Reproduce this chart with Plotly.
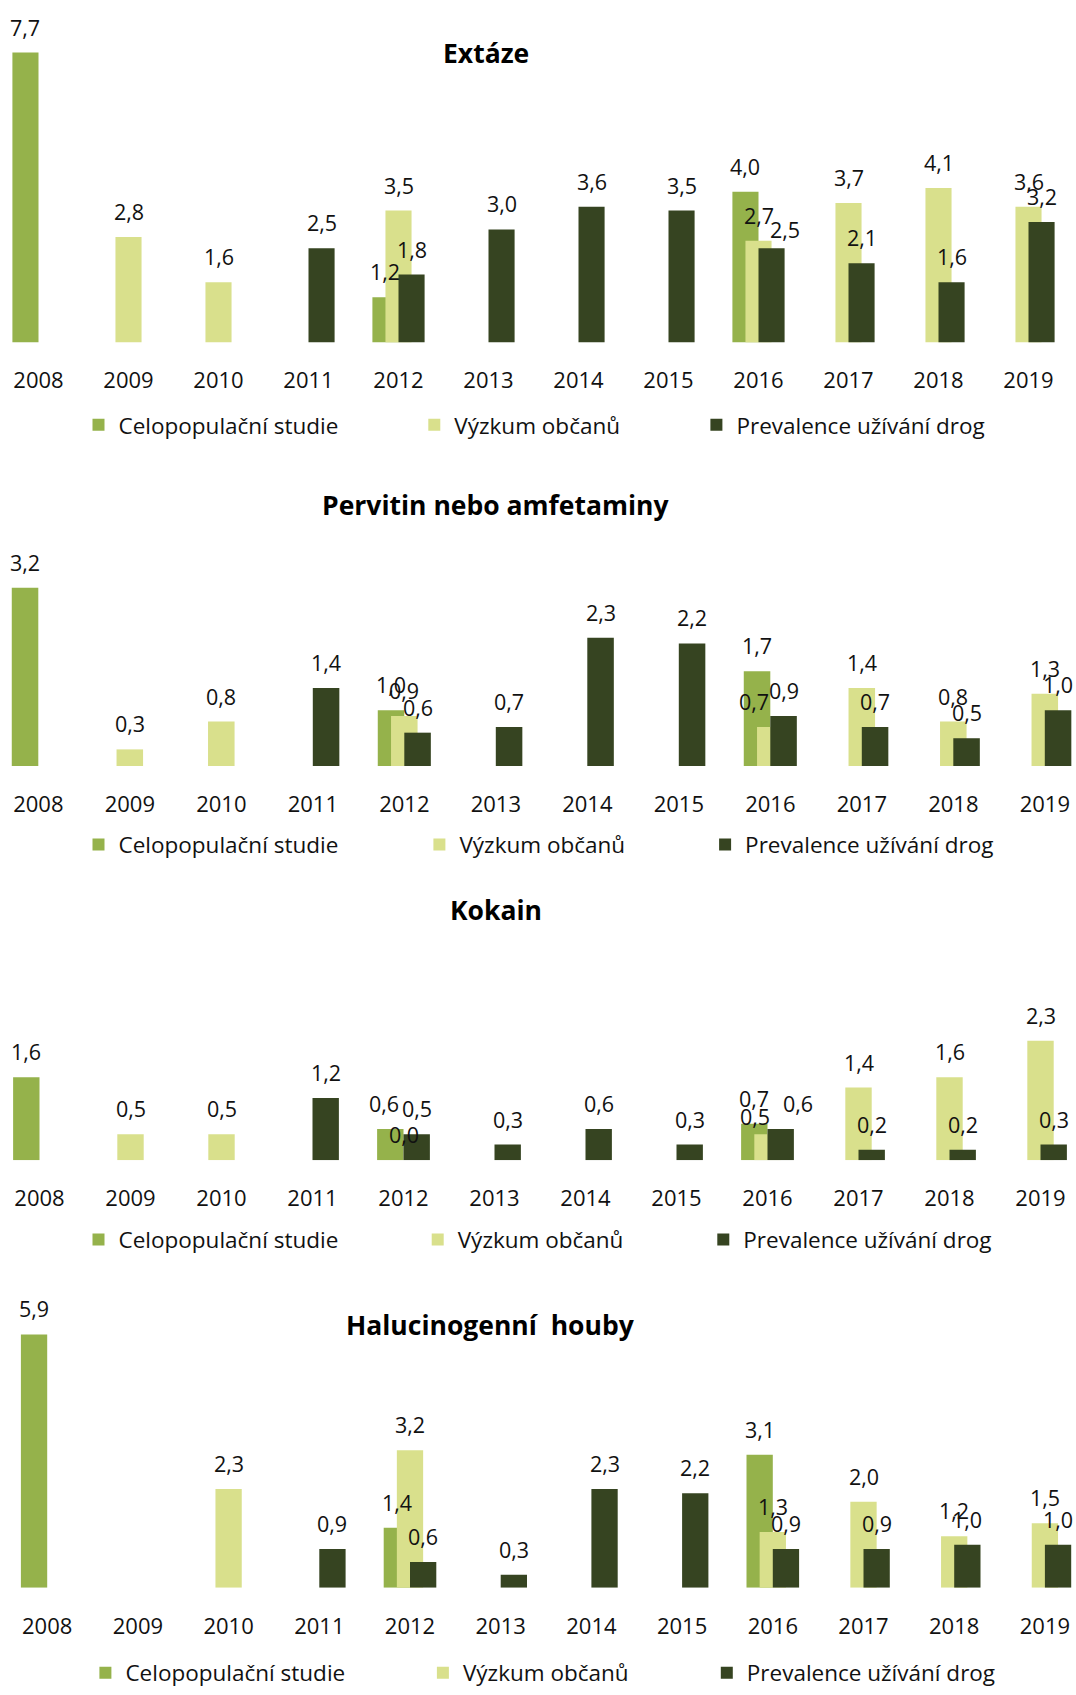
import plotly.graph_objects as go

# ---------------- data ----------------
years = ["2008", "2009", "2010", "2011", "2012", "2013",
         "2014", "2015", "2016", "2017", "2018", "2019"]

series_names = ["Celopopulační studie", "Výzkum občanů", "Prevalence užívání drog"]

panel_titles = ["Extáze", "Pervitin nebo amfetaminy", "Kokain", "Halucinogenní\u00a0 houby"]

extaze_celo = [7.7, None, None, None, 1.2, None, None, None, 4.0, None, None, None]
extaze_vyzkum = [None, 2.8, 1.6, None, 3.5, None, None, None, 2.7, 3.7, 4.1, 3.6]
extaze_prev = [None, None, None, 2.5, 1.8, 3.0, 3.6, 3.5, 2.5, 2.1, 1.6, 3.2]

pervitin_celo = [3.2, None, None, None, 1.0, None, None, None, 1.7, None, None, None]
pervitin_vyzkum = [None, 0.3, 0.8, None, 0.9, None, None, None, 0.7, 1.4, 0.8, 1.3]
pervitin_prev = [None, None, None, 1.4, 0.6, 0.7, 2.3, 2.2, 0.9, 0.7, 0.5, 1.0]

kokain_celo = [1.6, None, None, None, 0.6, None, None, None, 0.7, None, None, None]
kokain_vyzkum = [None, 0.5, 0.5, None, 0.0, None, None, None, 0.5, 1.4, 1.6, 2.3]
kokain_prev = [None, None, None, 1.2, 0.5, 0.3, 0.6, 0.3, 0.6, 0.2, 0.2, 0.3]

houby_celo = [5.9, None, None, None, 1.4, None, None, None, 3.1, None, None, None]
houby_vyzkum = [None, None, 2.3, None, 3.2, None, None, None, 1.3, 2.0, 1.2, 1.5]
houby_prev = [None, None, None, 0.9, 0.6, 0.3, 2.3, 2.2, 0.9, 0.9, 1.0, 1.0]

panels_data = [
    [extaze_celo, extaze_vyzkum, extaze_prev],
    [pervitin_celo, pervitin_vyzkum, pervitin_prev],
    [kokain_celo, kokain_vyzkum, kokain_prev],
    [houby_celo, houby_vyzkum, houby_prev],
]

# ---------------- style / layout ----------------
W, H = 1076, 1695
FONT = "Open Sans"
TXT = "#111111"
colors = ["#95B24B", "#D9E08C", "#364421"]
BAR_W = 0.29
offsets = [-0.29, -0.145, 0.0]
centers = [-0.145, 0.0, 0.145]

# pixel geometry of each panel (baseline, px per unit, first category centre,
# category spacing, title centre, legend row, legend text starts)
geom = [
    dict(base=343.8, ppu=37.8, x0=38.5, sp=90.0, tx=485.6, ty=53, ly=427,
         lt=[118.8, 454.6, 736.7]),
    dict(base=769.3, ppu=56.0, x0=38.3, sp=91.5, tx=495.8, ty=506.7, ly=848.3,
         lt=[118.8, 459.7, 745.4]),
    dict(base=1165.0, ppu=52.1, x0=39.5, sp=91.0, tx=495.8, ty=913.3, ly=1245,
         lt=[118.8, 458.0, 743.6]),
    dict(base=1594.3, ppu=43.1, x0=47.2, sp=90.7, tx=490.4, ty=1330, ly=1680,
         lt=[125.7, 463.2, 747.1]),
]

# hand-placed label nudges of the original (panel, series, year) -> (dx, dy) px
label_nudges = {
    (0, 2, "2016"): (13, -7),
    (1, 1, "2016"): (-16, 0),
    (2, 0, "2012"): (-6, 0),
    (2, 1, "2016"): (-13, -8),
    (2, 2, "2016"): (17, 0),
}


def py(px):
    return 1 - px / H


fig = go.Figure()
layout = dict(
    width=W, height=H,
    margin=dict(l=0, r=0, t=0, b=0),
    paper_bgcolor="white", plot_bgcolor="white",
    barmode="overlay",
    font=dict(family=FONT, color=TXT, size=21),
    annotations=[],
)

leg_idx = 0
for p, (g, data, title) in enumerate(zip(geom, panels_data, panel_titles)):
    sfx = "" if p == 0 else str(p + 1)
    xa, ya = "x" + sfx, "y" + sfx
    span_px = 330
    layout["xaxis" + sfx] = dict(
        domain=[0, 1], anchor=ya, type="category",
        categoryorder="array", categoryarray=years,
        range=[-g["x0"] / g["sp"], (W - g["x0"]) / g["sp"]],
        showgrid=False, zeroline=False, showline=False, ticks="",
        ticklabelstandoff=23, tickfont=dict(size=22, color=TXT, family=FONT),
        fixedrange=True,
    )
    layout["yaxis" + sfx] = dict(
        domain=[py(g["base"]), py(g["base"] - span_px)], anchor=xa,
        range=[0, span_px / g["ppu"]], visible=False, fixedrange=True,
    )
    for s in range(3):
        leg_idx += 1
        lname = "legend" if leg_idx == 1 else "legend" + str(leg_idx)
        fig.add_trace(go.Bar(
            x=years, y=data[s], name=series_names[s],
            width=BAR_W, offset=offsets[s],
            marker=dict(color=colors[s], line=dict(width=0)),
            xaxis=xa, yaxis=ya, legend=lname, showlegend=True,
            hoverinfo="skip",
        ))
        layout[lname] = dict(
            x=(g["lt"][s] - 40.3) / W, y=py(g["ly"]),
            xanchor="left", yanchor="middle", orientation="h",
            bgcolor="rgba(0,0,0,0)", borderwidth=0,
            font=dict(size=22.5, color=TXT, family=FONT),
        )
        for i, v in enumerate(data[s]):
            if v is None:
                continue
            dx, dy = label_nudges.get((p, s, years[i]), (0, 0))
            layout["annotations"].append(dict(
                x=i, y=v, xref=xa, yref=ya,
                xshift=centers[s] * g["sp"] + dx, yshift=9 + dy,
                yanchor="bottom", xanchor="center", showarrow=False,
                text=f"{v:.1f}".replace(".", ","),
                font=dict(size=21.5, color=TXT, family=FONT),
            ))
    layout["annotations"].append(dict(
        x=g["tx"] / W, y=py(g["ty"]), xref="paper", yref="paper",
        xanchor="center", yanchor="middle", showarrow=False,
        text="<b>" + title + "</b>",
        font=dict(size=26.5, color="#000000", family=FONT),
    ))

fig.update_layout(**layout)
fig.write_html("out.html")
